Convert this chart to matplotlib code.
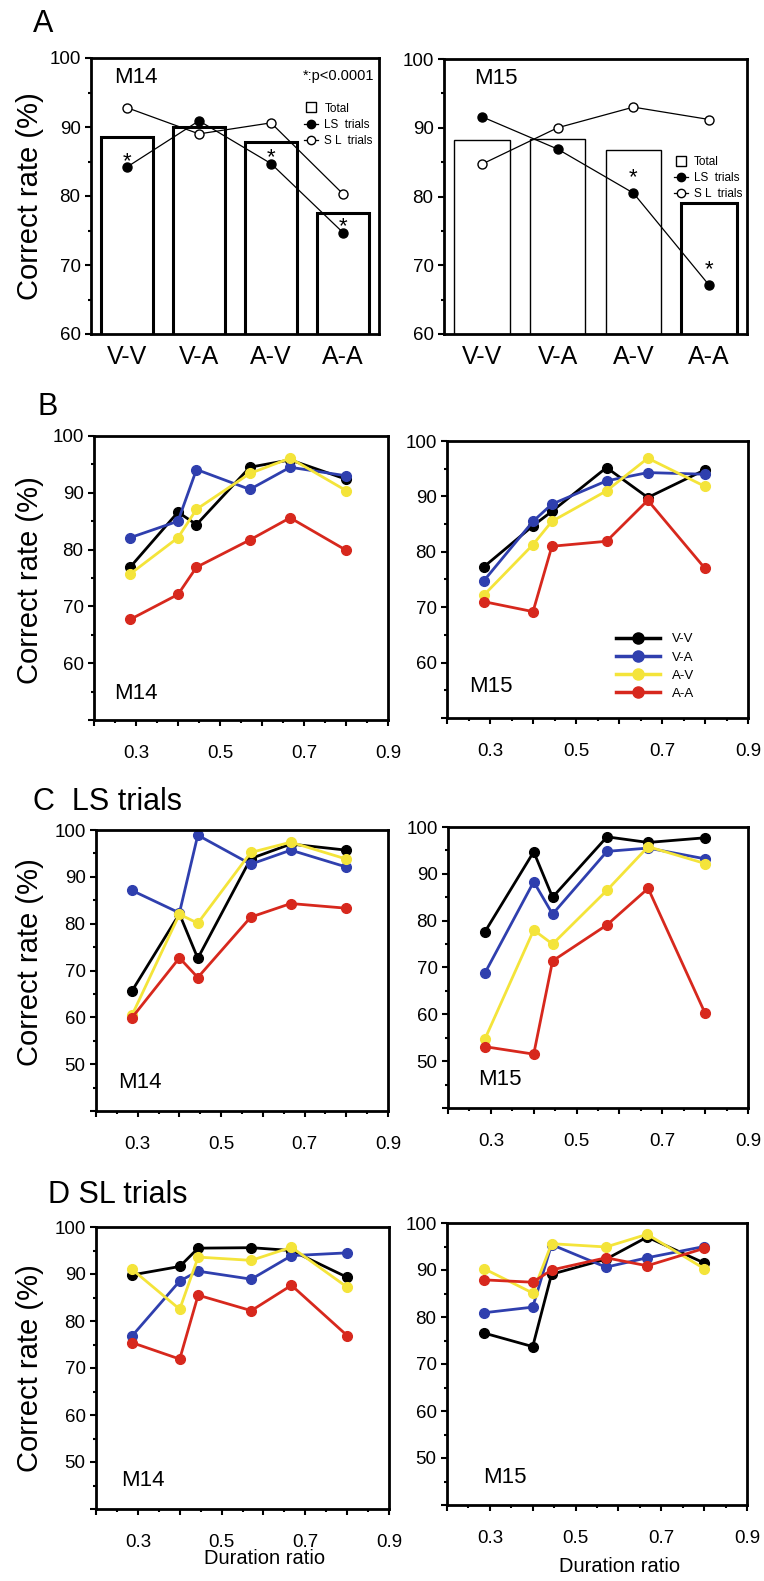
import matplotlib
matplotlib.use('Agg')
import matplotlib.pyplot as plt
from matplotlib.lines import Line2D

plt.rcParams['font.family'] = ['Liberation Sans', 'DejaVu Sans']

# ---- data ----
conds = ['V-V', 'V-A', 'A-V', 'A-A']
ratios = [0.286, 0.4, 0.444, 0.571, 0.667, 0.8]

# panel A: overall correct rate per condition
a14_total = [88.5, 90.0, 87.8, 77.6]
a14_ls = [84.2, 90.9, 84.7, 74.7]
a14_sl = [92.8, 89.0, 90.6, 80.3]
a14_star = [True, False, True, True]

a15_total = [88.2, 88.4, 86.7, 79.1]
a15_ls = [91.6, 86.9, 80.5, 67.1]
a15_sl = [84.7, 90.0, 93.0, 91.2]
a15_star = [False, False, True, True]

# panel B: all trials
b14_vv = [76.9, 86.6, 84.4, 94.5, 95.8, 92.4]
b14_va = [82.1, 85.0, 94.1, 90.6, 94.5, 93.0]
b14_av = [75.7, 82.1, 87.1, 93.4, 96.1, 90.4]
b14_aa = [67.7, 72.1, 76.9, 81.7, 85.6, 79.9]

b15_vv = [77.3, 84.7, 87.3, 95.2, 89.8, 94.8]
b15_va = [74.8, 85.5, 88.6, 92.8, 94.3, 94.0]
b15_av = [72.2, 81.3, 85.5, 91.0, 96.9, 91.8]
b15_aa = [71.0, 69.2, 81.0, 81.9, 89.3, 77.0]

# panel C: LS trials
c14_vv = [65.6, 82.1, 72.6, 93.9, 97.0, 95.7]
c14_va = [87.1, 82.3, 98.9, 92.7, 95.7, 92.1]
c14_av = [60.4, 82.0, 80.1, 95.2, 97.4, 93.8]
c14_aa = [59.9, 72.7, 68.5, 81.4, 84.3, 83.3]

c15_vv = [77.6, 94.7, 85.0, 97.9, 96.7, 97.7]
c15_va = [68.8, 88.3, 81.4, 94.8, 95.5, 93.2]
c15_av = [54.7, 78.0, 75.0, 86.5, 95.8, 92.2]
c15_aa = [53.1, 51.5, 71.4, 79.1, 86.9, 60.2]

# panel D: SL trials
d14_vv = [89.8, 91.6, 95.5, 95.6, 95.0, 89.3]
d14_va = [76.8, 88.5, 90.6, 88.9, 93.9, 94.5]
d14_av = [91.0, 82.5, 93.6, 92.9, 95.7, 87.2]
d14_aa = [75.4, 71.9, 85.5, 82.2, 87.6, 76.9]

d15_vv = [76.6, 73.7, 89.1, 92.3, 97.0, 91.5]
d15_va = [80.9, 82.1, 95.4, 90.6, 92.6, 95.0]
d15_av = [90.3, 85.1, 95.6, 94.9, 97.6, 90.3]
d15_aa = [87.9, 87.4, 90.0, 92.6, 90.9, 94.6]

colors = ['black', '#2f3fae', '#f4e43a', '#d7281d']

W, H = 764, 1581
fig = plt.figure(figsize=(W / 100, H / 100), dpi=100)


def rect(x0, y0, x1, y1):
    return [x0 / W, 1 - y1 / H, (x1 - x0) / W, (y1 - y0) / H]


def style_box(ax):
    for s in ax.spines.values():
        s.set_linewidth(2)
    ax.tick_params(which='major', direction='out', length=4, width=1.5, labelsize=13.5)
    ax.tick_params(which='minor', direction='out', length=2.5, width=1.5)


def bar_panel(ax, total, ls, sl, star, name, edge_lw, legend_pos, ptext, star_off):
    x = list(range(len(conds)))
    bars = ax.bar(x, total, width=0.73, bottom=0, color='white', edgecolor='black', zorder=1)
    for b, lw in zip(bars, edge_lw):
        b.set_linewidth(lw)
    ax.plot(x, ls, '-o', color='black', lw=0.9, ms=6.5, mfc='black', zorder=3)
    ax.plot(x, sl, '-o', color='black', lw=0.9, ms=6.5, mfc='white', zorder=3)
    for xi, yi, s in zip(x, ls, star):
        if s:
            ax.annotate('*', (xi, yi), xytext=(0, star_off), textcoords='offset points',
                        ha='center', va='center', fontsize=16, zorder=4)
    ax.set_xlim(-0.5, 3.5)
    ax.set_ylim(60, 100)
    ax.set_yticks(range(60, 101, 10))
    ax.set_yticks(range(65, 100, 10), minor=True)
    ax.set_xticks(x)
    ax.set_xticklabels(conds)
    style_box(ax)
    ax.tick_params(axis='x', length=0, pad=8, labelsize=18)
    ax.text(0.08 if name == 'M14' else 0.1, 0.93, name, transform=ax.transAxes,
            fontsize=16, ha='left', va='center')
    if ptext:
        ax.text(0.985, 0.935, '*:p<0.0001', transform=ax.transAxes, fontsize=10.5,
                ha='right', va='center')
    handles = [Line2D([], [], ls='none', marker='s', mfc='white', mec='black', ms=7, mew=1),
               Line2D([], [], color='black', lw=0.9, marker='o', mfc='black', ms=6),
               Line2D([], [], color='black', lw=0.9, marker='o', mfc='white', ms=6)]
    ax.legend(handles, ['Total', 'LS  trials', 'S L  trials'], loc='upper left',
              bbox_to_anchor=legend_pos, frameon=False, fontsize=8.5,
              handlelength=1.2, handletextpad=0.5, labelspacing=0.35, borderpad=0)


def line_panel(ax, series, name, name_pos, ylo):
    for vals, c in zip(series, colors):
        ax.plot(ratios, vals, '-o', color=c, lw=2, ms=7, mec=c)
    ax.set_xlim(0.2, 0.9)
    ax.set_ylim(ylo, 100)
    ax.set_xticks([0.2, 0.3, 0.4, 0.5, 0.6, 0.7, 0.8, 0.9])
    ax.set_xticklabels(['', '0.3', '', '0.5', '', '0.7', '', '0.9'])
    ax.set_xticks([0.25, 0.35, 0.45, 0.55, 0.65, 0.75, 0.85], minor=True)
    yt = list(range(ylo, 101, 10))
    ax.set_yticks(yt)
    ax.set_yticklabels([''] + [str(v) for v in yt[1:]])
    ax.set_yticks(list(range(ylo + 5, 100, 10)), minor=True)
    style_box(ax)
    ax.tick_params(axis='x', pad=14)
    ax.text(name_pos[0], name_pos[1], name, transform=ax.transAxes, fontsize=16,
            ha='left', va='center')


# panel A
axA1 = fig.add_axes(rect(91, 58, 379, 334))
bar_panel(axA1, a14_total, a14_ls, a14_sl, a14_star, 'M14', [2.2] * 4, (0.72, 0.86), True, 4)
axA2 = fig.add_axes(rect(444, 59, 747, 334))
bar_panel(axA2, a15_total, a15_ls, a15_sl, a15_star, 'M15', [1.0, 1.0, 1.0, 2.2], (0.74, 0.67), False, 11)

# panel B
axB1 = fig.add_axes(rect(94, 436, 388, 720))
line_panel(axB1, [b14_vv, b14_va, b14_av, b14_aa], 'M14', (0.07, 0.095), 50)
axB2 = fig.add_axes(rect(447, 441, 748, 718))
line_panel(axB2, [b15_vv, b15_va, b15_av, b15_aa], 'M15', (0.075, 0.113), 50)
lh = [Line2D([], [], color=c, lw=2.5, marker='o', ms=8, mec=c) for c in colors]
axB2.legend(lh, conds, loc='upper left', bbox_to_anchor=(0.54, 0.33), frameon=False,
            fontsize=9.5, handlelength=3.3, handletextpad=0.9, labelspacing=0.45, borderpad=0)

# panel C
axC1 = fig.add_axes(rect(96, 830, 388, 1111))
line_panel(axC1, [c14_vv, c14_va, c14_av, c14_aa], 'M14', (0.075, 0.1), 40)
axC2 = fig.add_axes(rect(448, 827, 748, 1108))
line_panel(axC2, [c15_vv, c15_va, c15_av, c15_aa], 'M15', (0.1, 0.1), 40)

# panel D
axD1 = fig.add_axes(rect(96, 1227, 389, 1509))
line_panel(axD1, [d14_vv, d14_va, d14_av, d14_aa], 'M14', (0.085, 0.1), 40)
axD2 = fig.add_axes(rect(447, 1223, 747, 1505))
line_panel(axD2, [d15_vv, d15_va, d15_av, d15_aa], 'M15', (0.12, 0.096), 40)

# labels in figure pixels
def ftext(x, y, s, **kw):
    fig.text(x / W, 1 - y / H, s, **kw)

ftext(33, 24, 'A', fontsize=22, ha='left', va='center')
ftext(37, 407, 'B', fontsize=22, ha='left', va='center')
ftext(33, 802, 'C  LS trials', fontsize=22, ha='left', va='center')
ftext(48, 1195, 'D SL trials', fontsize=22, ha='left', va='center')

for yc in [196, 580, 962, 1368]:
    ftext(30, yc, 'Correct rate (%)', fontsize=21, rotation=90, ha='center', va='center')

ftext(265, 1558, 'Duration ratio', fontsize=14.5, ha='center', va='center')
ftext(620, 1567, 'Duration ratio', fontsize=14.5, ha='center', va='center')

fig.savefig('out.png', dpi=100)
